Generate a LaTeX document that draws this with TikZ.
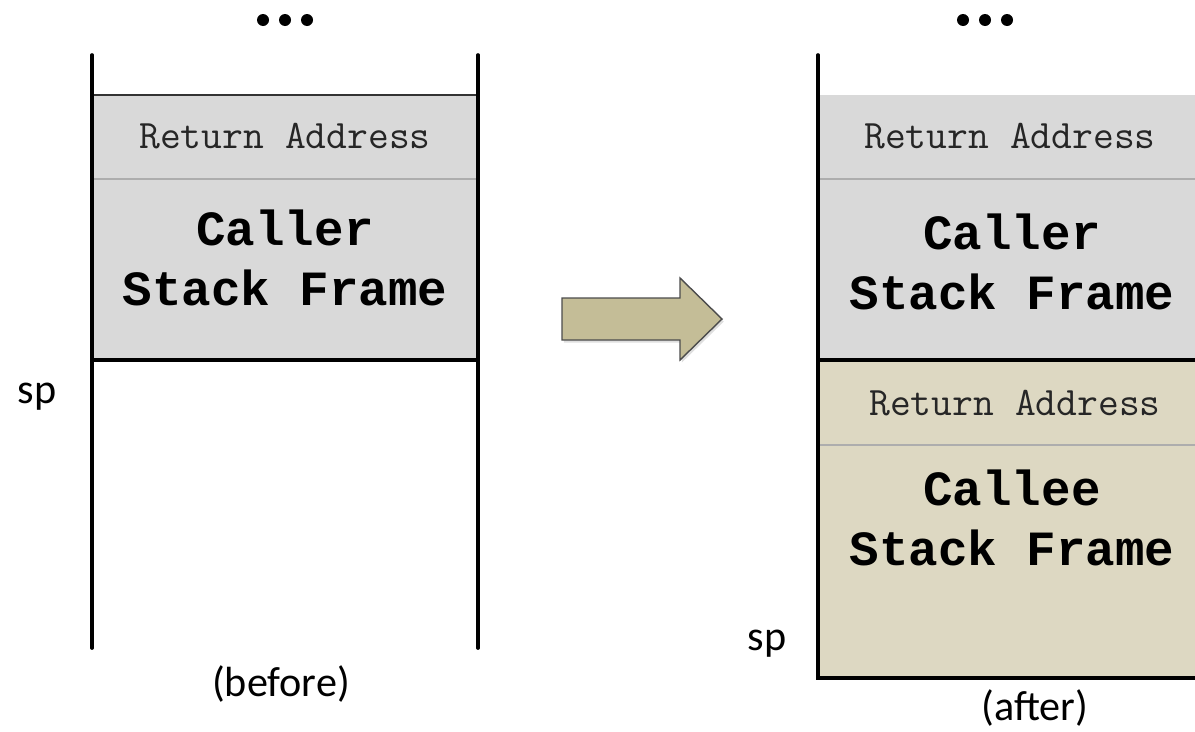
\documentclass[tikz,border=0pt]{standalone}
\usepackage{fontspec}
\setmainfont{Carlito}
\newfontfamily\codefont{Liberation Mono}
\usetikzlibrary{shadows}
\definecolor{framegray}{HTML}{D9D9D9}
\definecolor{calleetan}{HTML}{DDD8C2}
\definecolor{arrowtan}{HTML}{C4BD97}
\tikzset{
  rettext/.style={font=\ttfamily\fontsize{23}{27}\selectfont, text=black!85},
  frametext/.style={font=\codefont\bfseries\fontsize{28}{34.5}\selectfont, align=center},
  stackline/.style={line width=2.1pt, line cap=round},
  sepline/.style={line width=1.2pt, draw=black!32}
}
\begin{document}
\begin{tikzpicture}[x=0.2mm, y=-0.2mm, font=\fontsize{24}{29}\selectfont]
  \useasboundingbox (0,0) rectangle (1195,731);
  \clip (0,0) rectangle (1195,731);

  % before
  \fill[framegray] (92,95) rectangle (478,360);
  \draw[sepline] (92,179) -- (478,179);
  \draw[line width=0.9pt, black!80] (92,95) -- (478,95);
  \draw[stackline] (92,360) -- (478,360);
  \draw[stackline] (92,55) -- (92,648);
  \draw[stackline] (478,55) -- (478,648);
  \foreach \dx in {-22,0,22} \fill (285+\dx,20) circle (6);
  \node[rettext] (ra1) at (285,136) {Return Address};
  \node[frametext] (caller1) at (285,258) {Caller\\Stack Frame};
  \node (sp1) at (37,397) {sp};
  \node (before) at (281,684) {(before)};

  % arrow
  \filldraw[fill=arrowtan, draw=black!70, line width=0.8pt,
            drop shadow={shadow xshift=1pt, shadow yshift=-1.5pt, opacity=0.25}]
    (562,298) -- (680,298) -- (680,278) -- (722,319) -- (680,360)
    -- (680,340) -- (562,340) -- cycle;

  % after
  \fill[framegray] (818,95) rectangle (1200,360);
  \fill[calleetan] (818,360) rectangle (1200,678);
  \draw[sepline] (818,179) -- (1200,179);
  \draw[sepline] (818,445) -- (1200,445);
  \draw[stackline] (818,360) -- (1200,360);
  \draw[stackline] (818,55) -- (818,678) -- (1200,678);
  \foreach \dx in {-22,0,22} \fill (985+\dx,20) circle (6);
  \node[rettext] (ra2) at (1010,136) {Return Address};
  \node[frametext] (caller2) at (1012,262) {Caller\\Stack Frame};
  \node[rettext] (ra3) at (1015,403) {Return Address};
  \node[frametext] (callee) at (1012,518) {Callee\\Stack Frame};
  \node (sp2) at (767,644) {sp};
  \node (after) at (1035,708) {(after)};
\end{tikzpicture}
\end{document}
